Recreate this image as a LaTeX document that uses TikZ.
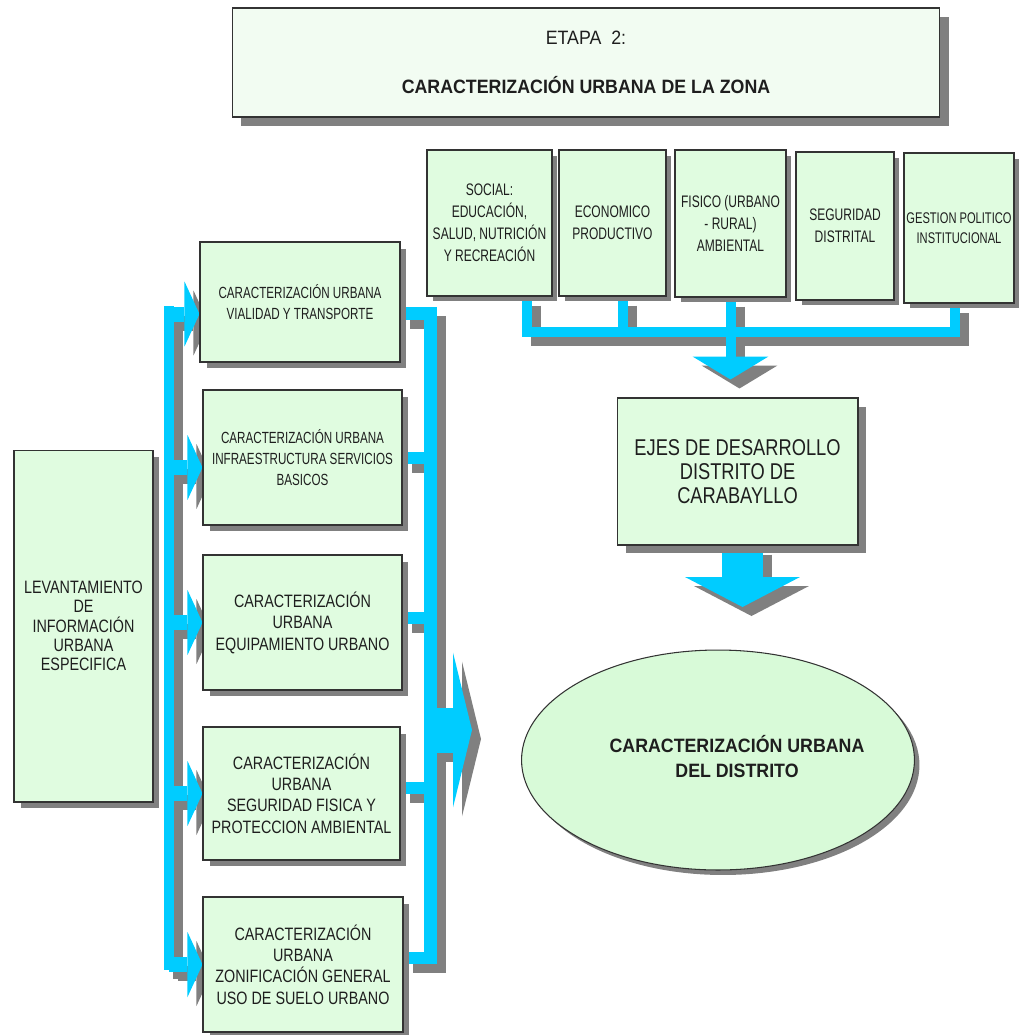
\documentclass[tikz,border=0pt]{standalone}
\usepackage{fontspec}
\setmainfont{Liberation Sans}
\newfontfamily\narrowfont{Liberation Sans}[FakeStretch=0.72]
\newfontfamily\condfont{Liberation Sans}[FakeStretch=0.8]
\newfontfamily\widefont{Liberation Sans}[FakeStretch=0.92]
\usepackage{xcolor}
\usepackage{tikz}
\usetikzlibrary{shapes,arrows.meta,positioning,shadows}

\definecolor{boxgreen}{RGB}{224,252,224}
\definecolor{palegreen}{RGB}{242,252,242}
\definecolor{ovalgreen}{RGB}{216,250,216}
\definecolor{flowblue}{RGB}{0,204,255}
\definecolor{shadegray}{RGB}{128,128,128}
\definecolor{inkgray}{RGB}{30,30,30}

\pgfdeclarelayer{background}
\pgfdeclarelayer{flowlayer}
\pgfsetlayers{background,flowlayer,main}

\tikzset{
    boxshadow/.style={drop shadow={shadow xshift=#1, shadow yshift=-#1, fill=shadegray, opacity=1}},
    boxshadow/.default=0.13cm,
    greenbox/.style={draw=black!80, line width=0.6pt, fill=boxgreen, text=inkgray, align=center, inner sep=1pt},
    smallbox/.style={greenbox, boxshadow=0.11cm, font=\narrowfont\fontsize{9.5}{12.5}\selectfont},
    narrowbox/.style={greenbox, boxshadow, font=\narrowfont\fontsize{9.2}{12}\selectfont},
    colbox/.style={greenbox, boxshadow, minimum width=3.98cm, minimum height=2.7cm, font=\condfont\fontsize{10.2}{12.2}\selectfont},
    flow/.style={draw=flowblue, line join=miter},
    flowshade/.style={draw=shadegray, line join=miter, transform canvas={shift={(0.18cm,-0.18cm)}}},
    lefthead/.style={line width=0.3cm, -{Triangle[length=0.3cm, width=1.3cm, line width=0pt]}}
}

\newcommand{\flowline}[2]{%
    \begin{pgfonlayer}{background}\draw[flowshade,#1] #2;\end{pgfonlayer}%
    \begin{pgfonlayer}{flowlayer}\draw[flow,#1] #2;\end{pgfonlayer}}

\begin{document}
\begin{tikzpicture}[x=0.02cm, y=-0.02cm]
    \useasboundingbox (0,0) rectangle (1020,1035);

    \node[
        greenbox,
        fill=palegreen,
        boxshadow=0.18cm,
        minimum width=14.16cm,
        minimum height=2.18cm,
        font=\widefont\fontsize{11}{14}\selectfont
    ] (etapa) at (586,62.5) {ETAPA\ \ 2:\\[14pt]\textbf{CARACTERIZACIÓN URBANA DE LA ZONA}};

    \node[smallbox, minimum width=2.5cm, minimum height=2.92cm] (social) at (489.5,223) {SOCIAL:\\EDUCACIÓN,\\SALUD, NUTRICIÓN\\Y RECREACIÓN};
    \node[smallbox, minimum width=2.14cm, minimum height=2.92cm] (econ) at (612.5,223) {ECONOMICO\\PRODUCTIVO};
    \node[smallbox, minimum width=2.22cm, minimum height=2.94cm] (fisico) at (730.5,223.5) {FISICO (URBANO\\- RURAL)\\AMBIENTAL};
    \node[smallbox, minimum width=1.96cm, minimum height=2.96cm] (segur) at (845,226) {SEGURIDAD\\DISTRITAL};
    \node[smallbox, minimum width=2.2cm, minimum height=3cm, font=\narrowfont\fontsize{8.8}{11.5}\selectfont] (gestion) at (959,228) {GESTION POLITICO\\INSTITUCIONAL};

    \node[
        greenbox,
        boxshadow,
        minimum width=2.78cm,
        minimum height=7.04cm,
        font=\condfont\fontsize{10.2}{11}\selectfont
    ] (levanta) at (83.5,626) {LEVANTAMIENTO\\DE\\INFORMACIÓN\\URBANA\\ESPECIFICA};

    \node[narrowbox, minimum width=4cm, minimum height=2.4cm] (vial) at (300,302) {CARACTERIZACIÓN URBANA\\VIALIDAD Y TRANSPORTE};
    \node[narrowbox, minimum width=3.98cm, minimum height=2.7cm] (infra) at (302.5,457.5) {CARACTERIZACIÓN URBANA\\INFRAESTRUCTURA SERVICIOS\\BASICOS};
    \node[colbox] (equip) at (302.5,622.5) {CARACTERIZACIÓN\\URBANA\\EQUIPAMIENTO URBANO};
    \node[colbox, minimum width=3.94cm, minimum height=2.66cm] (segfis) at (301.5,793.5) {CARACTERIZACIÓN\\URBANA\\SEGURIDAD FISICA Y\\PROTECCION AMBIENTAL};
    \node[colbox, minimum width=4cm] (zonif) at (303,964.5) {CARACTERIZACIÓN\\URBANA\\ZONIFICACIÓN GENERAL\\USO DE SUELO URBANO};

    \node[
        greenbox,
        boxshadow=0.17cm,
        minimum width=4.82cm,
        minimum height=2.94cm,
        font=\condfont\fontsize{13}{13.8}\selectfont
    ] (ejes) at (737.5,471.5) {EJES DE DESARROLLO\\DISTRITO DE\\CARABAYLLO};

    \node[
        greenbox,
        ellipse,
        fill=ovalgreen,
        boxshadow=0.1cm,
        minimum width=7.86cm,
        minimum height=4.4cm,
        font=\widefont\bfseries\fontsize{11}{14}\selectfont
    ] (distrito) at (718,760) {\makebox[0pt]{\hspace{0.76cm}\begin{tabular}{@{}c@{}}CARACTERIZACIÓN URBANA\\DEL DISTRITO\end{tabular}}};

    \coordinate (tbar) at (731,332);
    \coordinate (lbtop) at (169,306);
    \coordinate (lbbot) at (169,970);
    \coordinate (rbbot) at (430,964);
    \coordinate (bigtip) at (472,730);
    \coordinate (ejestip) at (742.5,607);
    \coordinate (inVial) at ([yshift=-0.24cm]vial.west);
    \coordinate (inInfra) at ([yshift=-0.2cm]infra.west);
    \coordinate (outVial) at ([yshift=-0.22cm]vial.east);
    \coordinate (outEquip) at ([yshift=0.1cm]equip.east);
    \coordinate (outSegfis) at ([yshift=0.12cm]segfis.east);
    \coordinate (outZonif) at ([yshift=0.14cm]zonif.east);

    \flowline{line width=0.2cm}{([xshift=0.75cm]social.south) |- (tbar) -| ([xshift=-0.08cm]gestion.south)}
    \flowline{line width=0.2cm}{([xshift=0.2cm]econ.south) |- (tbar)}
    \flowline{line width=0.2cm, shorten >=0.36cm, -{Triangle[length=0.46cm, width=1.52cm, line width=0pt]}}{(fisico.south) -- (ejes.north -| fisico.south)}

    \flowline{line width=0.2cm}{(lbtop) -- (lbbot)}
    \flowline{lefthead}{(lbtop |- inVial) -- (inVial)}
    \flowline{lefthead}{(lbtop |- inInfra) -- (inInfra)}
    \flowline{lefthead}{(lbtop |- equip.west) -- (equip.west)}
    \flowline{lefthead}{(lbtop |- segfis.west) -- (segfis.west)}
    \flowline{lefthead}{(lbtop |- zonif.west) -- (zonif.west)}

    \flowline{line width=0.26cm}{(outVial) -| (rbbot)}
    \flowline{line width=0.24cm}{(infra.east) -- (infra.east -| rbbot)}
    \flowline{line width=0.24cm}{(outEquip) -- (outEquip -| rbbot)}
    \flowline{line width=0.24cm}{(outSegfis) -- (outSegfis -| rbbot)}
    \flowline{line width=0.24cm}{(outZonif) -- (outZonif -| rbbot)}
    \flowline{line width=0.9cm, -{Triangle[length=0.38cm, width=3.1cm, line width=0pt]}}{(bigtip -| rbbot) -- (bigtip)}

    \flowline{line width=0.82cm, -{Triangle[length=0.6cm, width=2.3cm, line width=0pt]}}{(ejes.south -| ejestip) -- (ejestip)}
\end{tikzpicture}
\end{document}
